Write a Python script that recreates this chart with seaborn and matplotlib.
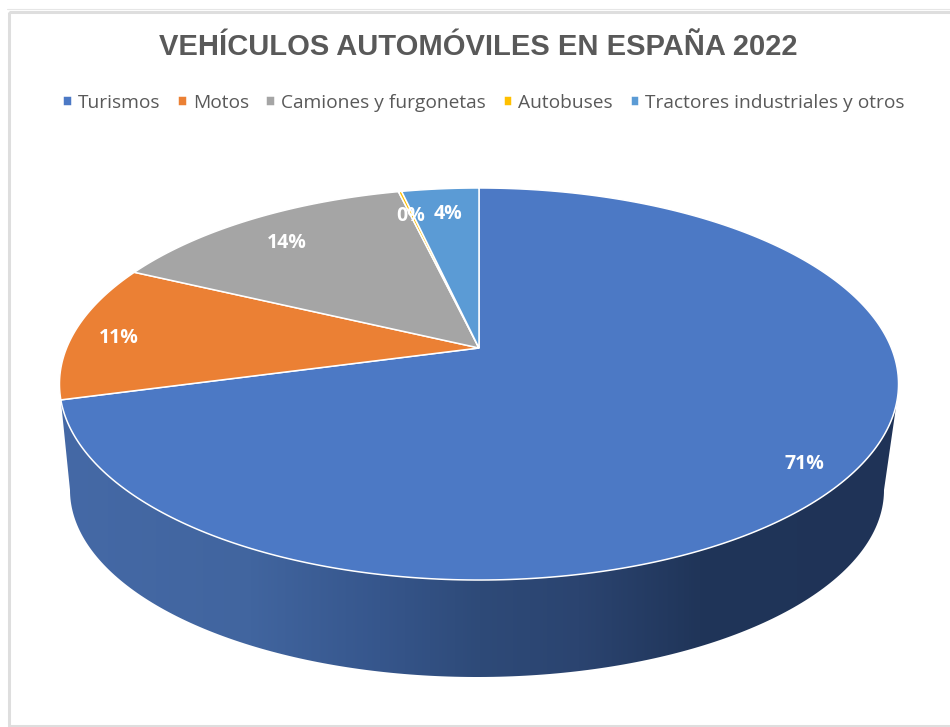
import numpy as np
import matplotlib
matplotlib.use("Agg")
import matplotlib.pyplot as plt
from matplotlib.path import Path
from matplotlib.patches import Polygon, Rectangle
from matplotlib.transforms import Transform, Affine2D
import seaborn as sns

TITLE = "VEHÍCULOS AUTOMÓVILES EN ESPAÑA 2022"
categories = ["Turismos", "Motos", "Camiones y furgonetas", "Autobuses", "Tractores industriales y otros"]
shares = [70.8, 11.3, 14.2, 0.15, 3.55]
palette = ["#4C79C5", "#EB8034", "#A5A5A5", "#FFC000", "#5B9BD5"]
label_radius = [0.89, 0.89, 0.82, 0.835, 0.83]
label_turn = [0.0, -1.0, -0.9, -0.5, 0.0]

# tilted-disc projection (apex in pixels, frontal/back foreshortening)
AX, AY = 479.0, 348.0
A, B, K = 412.4, 189.4, 0.1837


class Tilt(Transform):
    input_dims = output_dims = 2
    is_affine = False
    has_inverse = False

    def transform_non_affine(self, xy):
        xy = np.asarray(xy, float)
        w = 1 + K * xy[..., 1]
        return np.stack([AX + A * xy[..., 0] / w, AY - B * xy[..., 1] / w], axis=-1)

    def transform_path_non_affine(self, path):
        pts = [curve(np.linspace(0, 1, 40)) for curve, _ in path.iter_bezier()]
        return Path(self.transform_non_affine(np.concatenate(pts)))


sns.set_theme(style="white")
plt.rcParams["font.family"] = ["Open Sans", "DejaVu Sans"]

fig = plt.figure(figsize=(9.5, 7.27), dpi=100, facecolor="white")
ax = fig.add_axes([0, 0, 1, 1])

wedges, _, autotexts = ax.pie(
    shares, colors=palette, startangle=90, counterclock=False,
    autopct="%1.0f%%", pctdistance=0.85,
    wedgeprops=dict(edgecolor="white", linewidth=1.1),
    textprops=dict(color="white", fontweight="bold", fontsize=14),
)
tilt = Tilt()
full = tilt + ax.transData
for w in wedges:
    w.set_transform(full)
    w.set_zorder(2)
cum = np.cumsum(shares) - np.array(shares) / 2
for t, r, turn, c in zip(autotexts, label_radius, label_turn, cum):
    b = np.deg2rad(360 * c / sum(shares) + turn)
    t.set_position((r * np.sin(b), r * np.cos(b)))
    t.set_transform(full + Affine2D().translate(2, -2))
    t.set_zorder(3)

# side wall of the disc: front rim of the first slice + lower rim
end = np.deg2rad(360 * shares[0] / sum(shares))
bear = np.linspace(end, np.deg2rad(106), 200)
rim = tilt.transform_non_affine(np.column_stack([np.sin(bear), np.cos(bear)]))
ang = np.linspace(0, np.pi, 200)
low = np.column_stack([477 + 407 * np.cos(ang), 490 + 187 * np.sin(ang)])
wall = Polygon(np.vstack([rim, low]), closed=True, facecolor="none", edgecolor="none", transform=ax.transData)
ax.add_patch(wall)
stops_x = [60, 250, 380, 480, 580, 700, 895]
stops_c = ["#4569A6", "#41659F", "#36568C", "#2E4A78", "#2B4470", "#203559", "#1F3357"]
rgb = np.array([matplotlib.colors.to_rgb(c) for c in stops_c])
xs = np.linspace(55, 900, 400)
grad = np.stack([np.interp(xs, stops_x, rgb[:, i]) for i in range(3)], axis=-1)[None, :, :]
im = ax.imshow(grad, extent=(55, 900, 690, 395), aspect="auto", zorder=1)
im.set_clip_path(wall)

ax.set_aspect("auto")
ax.set_xlim(0, 950)
ax.set_ylim(727, 0)
ax.axis("off")

# screenshot frame
ax.add_patch(Rectangle((8.5, 12), 960, 714, fill=False, edgecolor="#DEDEDE", linewidth=2.2, zorder=5))
ax.plot([7, 950], [9, 9], color="#E6E6E6", linewidth=0.8, zorder=5)

ax.text(478.5, 47, TITLE, ha="center", va="center", color="#595959", fontsize=21,
        fontweight="bold", family=["Liberation Sans", "DejaVu Sans"])

ax.legend(wedges, categories, ncol=5, loc="center", bbox_to_anchor=(484 / 950, 1 - 102.5 / 727),
          frameon=False, fontsize=13.8, labelcolor="#595959", handlelength=0.45, handleheight=0.45,
          handletextpad=0.32, columnspacing=0.92, borderpad=0)

fig.savefig("out.png", dpi=100, facecolor="white")
